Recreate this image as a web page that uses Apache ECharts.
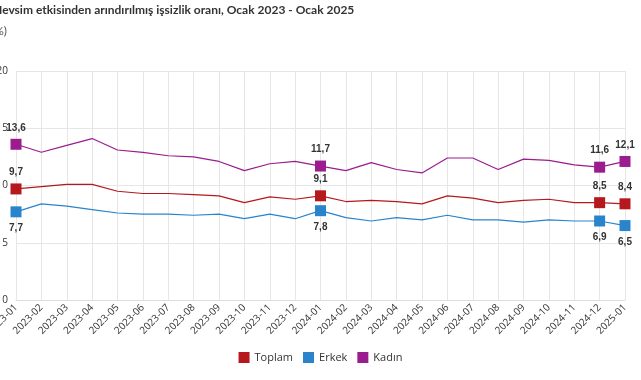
<!DOCTYPE html>
<html><head><meta charset="utf-8">
<script src="https://cdn.jsdelivr.net/npm/echarts@6/dist/echarts.min.js"></script>
<style>html,body{margin:0;padding:0;background:#fff}#c{width:641px;height:380px}</style>
</head><body><div id="c"></div>
<script>
const categories = ["2023-01","2023-02","2023-03","2023-04","2023-05","2023-06","2023-07","2023-08","2023-09","2023-10","2023-11","2023-12","2024-01","2024-02","2024-03","2024-04","2024-05","2024-06","2024-07","2024-08","2024-09","2024-10","2024-11","2024-12","2025-01"];
const toplam = [9.7,9.9,10.1,10.1,9.5,9.3,9.3,9.2,9.1,8.5,9.0,8.8,9.1,8.6,8.7,8.6,8.4,9.1,8.9,8.5,8.7,8.8,8.5,8.5,8.4];
const erkek  = [7.7,8.4,8.2,7.9,7.6,7.5,7.5,7.4,7.5,7.1,7.5,7.1,7.8,7.2,6.9,7.2,7.0,7.4,7.0,7.0,6.8,7.0,6.9,6.9,6.5];
const kadin  = [13.6,12.9,13.5,14.1,13.1,12.9,12.6,12.5,12.1,11.3,11.9,12.1,11.7,11.3,12.0,11.4,11.1,12.4,12.4,11.4,12.3,12.2,11.8,11.6,12.1];
const labeledIdx = [0,12,23,24];
const yTicks = [0,5,10,15,20];
const titleText = "Mevsim etkisinden arındırılmış işsizlik oranı, Ocak 2023 - Ocak 2025";
const unitText = "(%)";

function mk(name, arr, color, pos){
  return {
    name, type:'line', data: arr.map((v,i)=>{
      const show = labeledIdx.includes(i);
      return {value:v, symbolSize: show?11:0, label:{show}};
    }),
    symbol:'rect', showSymbol:true,
    lineStyle:{color, width:1.2}, itemStyle:{color},
    label:{position:pos, distance:6, fontWeight:'bold', fontSize:10, color:'#333', fontFamily:'"Liberation Sans", Arial',
      formatter:p=>p.value.toFixed(1).replace('.',',')},
    emphasis:{disabled:true}, animation:false
  };
}
const chart = echarts.init(document.getElementById('c'));
chart.setOption({
  animation:false,
  textStyle:{fontFamily:'"Open Sans", "Noto Sans", sans-serif'},
  graphic:[
    {type:'text', x:-9, y:4, style:{text:titleText, fill:'#333', font:'bold 12px Lato, "Open Sans", sans-serif'}},
    {type:'text', x:-9, y:25, style:{text:unitText, fill:'#555', font:'12px Lato, "Open Sans", sans-serif'}}
  ],
  grid:{left:16, right:16, top:71, bottom:80, containLabel:false, outerBoundsMode:'none'},
  legend:{bottom:12, left:'center', icon:'rect', itemWidth:11, itemHeight:11, itemGap:10,
    textStyle:{fontSize:11, color:'#333'}, data:['Toplam','Erkek','Kadın']},
  xAxis:{type:'category', data:categories, boundaryGap:false,
    axisLine:{lineStyle:{color:'#ddd'}}, axisTick:{show:false},
    axisLabel:{rotate:45, fontSize:10, color:'#333', interval:0, margin:6},
    splitLine:{show:true, lineStyle:{color:'#e6e6e6'}}},
  yAxis:{type:'value', min:yTicks[0], max:yTicks[yTicks.length-1], interval:5,
    axisLabel:{fontSize:10, color:'#333', margin:8, formatter:v=>String(v)},
    splitLine:{lineStyle:{color:'#e6e6e6'}}},
  series:[
    mk('Toplam', toplam, '#b5191e', 'top'),
    mk('Erkek', erkek, '#2a84cc', 'bottom'),
    mk('Kadın', kadin, '#9b1c8f', 'top')
  ]
});
</script></body></html>
